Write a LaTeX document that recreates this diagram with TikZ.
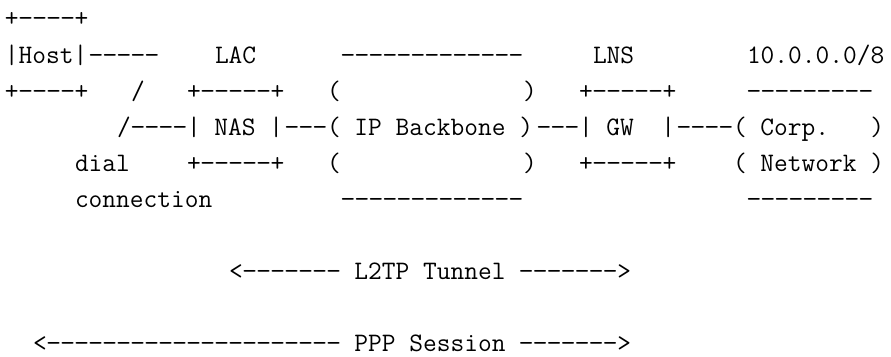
\documentclass[tikz,border=0pt]{standalone}
\usepackage{graphicx}
\frenchspacing
% one hyphen, widened a little, in a cell of the mono font's width
\newcommand\hy{\makebox[0.525em][c]{\scalebox{1.1}[1]{-}}}
\newcount\hycount
\newcommand\hys[1]{\hycount=#1\relax\loop\hy\advance\hycount by -1 \ifnum\hycount>0 \repeat}
\tikzset{
  art/.style={anchor=base west, inner sep=0pt, outer sep=0pt,
    font=\fontsize{26.667pt}{36pt}\selectfont\ttfamily}
}
\begin{document}
\begin{tikzpicture}
\useasboundingbox (0pt,0pt) rectangle (891pt,-356pt);
\fill[white] (0pt,0pt) rectangle (891pt,-356pt);
% character grid: one column = 14pt, one text line = 36pt
\begin{scope}[shift={(5pt,-63pt)}, x=14pt, y=-36pt]
  % host box
  \node[art] (hosttop) at (0,-1) {+\hys{4}+};
  \node[art] (host)    at (0,0)  {|Host|};
  \node[art] (hostbot) at (0,1)  {+\hys{4}+};
  % dial-up line from the host to the NAS
  \node[art] (hostlink) at (6,0) {\hys{5}};
  \node[art] (slasha)   at (9,1) {/};
  \node[art] (slashb)   at (8,2) {/};
  \node[art] (diallink) at (9,2) {\hys{4}};
  \node[art] (dial)     at (5,3) {dial};
  \node[art] (conn)     at (5,4) {connection};
  % LAC / NAS box
  \node[art] (lac)    at (15,0) {LAC};
  \node[art] (nastop) at (13,1) {+\hys{5}+};
  \node[art] (nas)    at (13,2) {|~NAS~|};
  \node[art] (nasbot) at (13,3) {+\hys{5}+};
  \node[art] (nasbb)  at (20,2) {\hys{3}};
  % IP backbone cloud
  \node[art] (bbtop) at (24,0) {\hys{13}};
  \node[art] (bbl1)  at (23,1) {(};
  \node[art] (bbr1)  at (37,1) {)};
  \node[art] (bb)    at (23,2) {(~IP~Backbone~)};
  \node[art] (bbl3)  at (23,3) {(};
  \node[art] (bbr3)  at (37,3) {)};
  \node[art] (bbbot) at (24,4) {\hys{13}};
  \node[art] (bbgw)  at (38,2) {\hys{3}};
  % LNS / GW box
  \node[art] (lns)   at (42,0) {LNS};
  \node[art] (gwtop) at (41,1) {+\hys{5}+};
  \node[art] (gw)    at (41,2) {|~GW~~|};
  \node[art] (gwbot) at (41,3) {+\hys{5}+};
  \node[art] (gwcorp) at (48,2) {\hys{4}};
  % corporate network cloud
  \node[art] (prefix)  at (53,0) {10.0.0.0/8};
  \node[art] (corptop) at (53,1) {\hys{9}};
  \node[art] (corp)    at (52,2) {(~Corp.~~~)};
  \node[art] (net)     at (52,3) {(~Network~)};
  \node[art] (corpbot) at (53,4) {\hys{9}};
  % tunnel and session spans
  \node[art] (tunnel)  at (16,6) {<\hys{7}~L2TP~Tunnel~\hys{7}>};
  \node[art] (session) at (2,8)  {<\hys{21}~PPP~Session~\hys{7}>};
\end{scope}
\end{tikzpicture}
\end{document}
